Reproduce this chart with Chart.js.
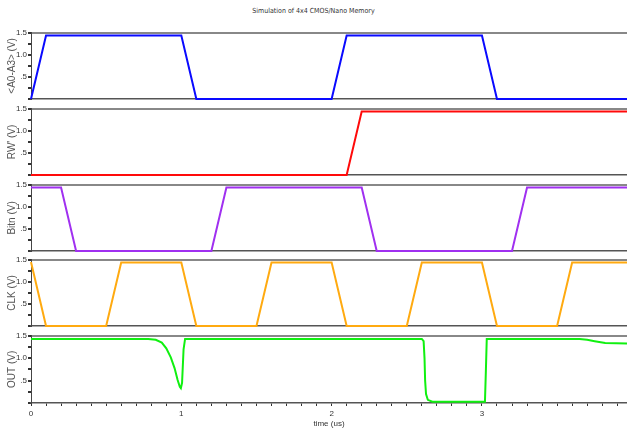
<!DOCTYPE html>
<html>
<head>
<meta charset="utf-8">
<script src="https://cdn.jsdelivr.net/npm/chart.js@4/dist/chart.umd.min.js"></script>
<style>
html,body{margin:0;padding:0;background:#fff;}
#wrap{position:relative;width:627px;height:431px;overflow:hidden;background:#fff;}
#title{position:absolute;left:0;top:7px;width:627px;text-align:center;font-family:"Liberation Sans Narrow","DejaVu Sans Condensed","Liberation Sans",sans-serif;font-size:7px;color:#333;line-height:9px;}
canvas{position:absolute;left:0;}
</style>
</head>
<body>
<div id="wrap">
  <div id="title">Simulation of 4x4 CMOS/Nano Memory</div>
  <canvas id="c0" width="627" height="78"></canvas>
  <canvas id="c1" width="627" height="78"></canvas>
  <canvas id="c2" width="627" height="78"></canvas>
  <canvas id="c3" width="627" height="78"></canvas>
  <canvas id="c4" width="627" height="102"></canvas>
</div>
<script>
// ---- data (time in us, voltage in V) ----
const xMax = 3.965;
const xTickLabels = ['0', '1', '2', '3'];
const yTickLabels = {'1.5': '1.5', '1': '1.0', '0.5': '.5'};

const tAddr = [0, 0.1, 1.0, 1.1, 2.0, 2.1, 3.0, 3.1, 3.965];
const vAddr = [0, 1.44, 1.44, 0, 0, 1.44, 1.44, 0, 0];

const tRW = [0, 2.1, 2.2, 3.965];
const vRW = [0, 0, 1.44, 1.44];

const tBit = [0, 0.2, 0.3, 1.2, 1.3, 2.2, 2.3, 3.2, 3.3, 3.965];
const vBit = [1.44, 1.44, 0, 0, 1.44, 1.44, 0, 0, 1.44, 1.44];

const tClk = [0, 0.1, 0.5, 0.6, 1.0, 1.1, 1.5, 1.6, 2.0, 2.1, 2.5, 2.6, 3.0, 3.1, 3.5, 3.6, 3.965];
const vClk = [1.45, 0, 0, 1.44, 1.44, 0, 0, 1.44, 1.44, 0, 0, 1.44, 1.44, 0, 0, 1.44, 1.44];

const tOut = [0, 0.78, 0.83, 0.87, 0.90, 0.93, 0.955, 0.975, 0.99, 0.997, 1.005, 1.015, 1.025,
              2.6, 2.612, 2.618, 2.622, 2.628, 2.64, 2.67, 3.02, 3.026, 3.032,
              3.65, 3.70, 3.75, 3.82, 3.965];
const vOut = [1.43, 1.43, 1.41, 1.35, 1.22, 1.02, 0.78, 0.52, 0.36, 0.33, 0.45, 1.20, 1.43,
              1.43, 1.38, 1.00, 0.50, 0.20, 0.07, 0.03, 0.03, 0.70, 1.43,
              1.43, 1.41, 1.38, 1.34, 1.33];

const names = ['<A0-A3> (V)', "RW' (V)", 'Bitn (V)', 'CLK (V)', 'OUT (V)'];
const colors = ['#0a0aff', '#ff0a0a', '#a030f0', '#ffaa10', '#10f010'];
const series = [[tAddr, vAddr], [tRW, vRW], [tBit, vBit], [tClk, vClk], [tOut, vOut]];

// ---- layout ----
const plotTops = [32, 108, 184, 259, 335];
const padTop = 5;

function isInt(v){ return Math.abs(v - Math.round(v)) < 1e-6; }

series.forEach((s, i) => {
  const bottom = i === 4;
  const cv = document.getElementById('c' + i);
  cv.style.top = (plotTops[i] - padTop) + 'px';
  const pts = s[0].map((t, k) => ({x: t, y: s[1][k]}));
  new Chart(cv, {
    type: 'line',
    data: {datasets: [{
      data: pts,
      borderColor: colors[i],
      borderWidth: 2,
      pointRadius: 0,
      tension: 0,
      fill: false,
      clip: 4
    }]},
    options: {
      responsive: false,
      animation: false,
      events: [],
      layout: {padding: {top: padTop, bottom: bottom ? 0 : 6, left: 0, right: 0}},
      plugins: {legend: {display: false}, tooltip: {enabled: false}},
      scales: {
        x: {
          type: 'linear',
          min: 0,
          max: xMax,
          display: true,
          grid: {display: bottom, color: 'transparent', drawTicks: true, tickLength: 3, tickColor: '#333'},
          border: {display: true, color: '#555', width: 1.5},
          ticks: {
            display: bottom,
            stepSize: 0.1,
            autoSkip: false,
            includeBounds: false,
            maxRotation: 0,
            padding: 3,
            color: '#333',
            font: {family: 'Liberation Sans', size: 8},
            callback: v => (isInt(v) && xTickLabels[Math.round(v)] !== undefined) ? xTickLabels[Math.round(v)] : ''
          },
          title: {display: bottom, text: 'time (us)', color: '#333',
                  font: {family: 'Liberation Sans', size: 8}, padding: {top: 0, bottom: 3}},
          afterFit: sc => { sc.height = bottom ? 29 : 0; }
        },
        y: {
          min: 0,
          max: 1.5,
          grid: {
            color: c => (c.tick && Math.abs(c.tick.value - 1.5) < 1e-6) ? '#888' : 'transparent',
            lineWidth: 2,
            drawTicks: true,
            tickLength: 3,
            tickColor: '#333'
          },
          border: {display: true, color: '#444', width: 1},
          ticks: {
            stepSize: 0.25,
            autoSkip: false,
            padding: 1,
            color: '#333',
            font: {family: 'Liberation Sans', size: 8},
            callback: v => {
              const k = String(Math.round(v * 100) / 100);
              return yTickLabels[k] !== undefined ? yTickLabels[k] : '';
            }
          },
          title: {display: true, text: names[i], color: '#555',
                  font: {family: 'Liberation Sans', size: 10}, padding: {top: 6, bottom: 0}},
          afterFit: sc => { sc.width = 31; }
        }
      }
    }
  });
});
</script>
</body>
</html>
